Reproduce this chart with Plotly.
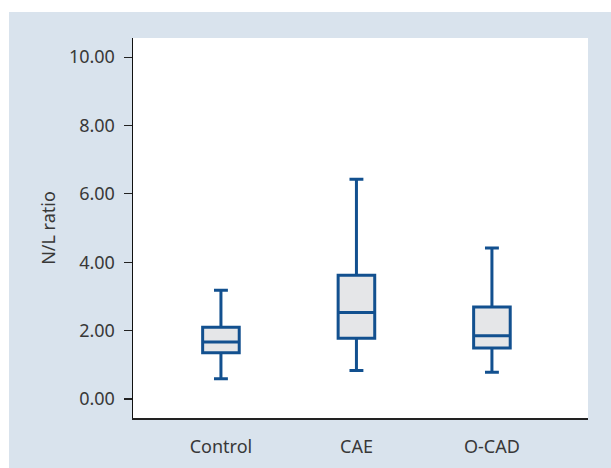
import plotly.graph_objects as go

categories = ["Control", "CAE", "O-CAD"]
lower_whisker = [0.59, 0.83, 0.78]
q1_values = [1.35, 1.78, 1.49]
median_values = [1.67, 2.53, 1.85]
q3_values = [2.10, 3.62, 2.69]
upper_whisker = [3.18, 6.43, 4.42]
y_tick_values = [0, 2, 4, 6, 8, 10]

BOX_LINE = "#12508f"
BOX_FILL = "#e5e6e8"
PANEL_BG = "#d9e3ed"
FONT = "Noto Sans, Open Sans, sans-serif"
FS = 18
TXT = "#383838"

fig = go.Figure()
fig.add_trace(go.Box(
    x=categories,
    q1=q1_values,
    median=median_values,
    q3=q3_values,
    lowerfence=lower_whisker,
    upperfence=upper_whisker,
    width=0.27,
    whiskerwidth=0.38,
    line=dict(color=BOX_LINE, width=3),
    fillcolor=BOX_FILL,
    boxpoints=False,
    hoverinfo="skip",
    showlegend=False,
))

W, H = 611, 468
ml, mr, mt, mb = 133, 23, 38, 50
pw, ph = W - ml - mr, H - mt - mb

def px_x(q):
    return (q - ml) / pw

def px_y(p):
    return (H - mb - p) / ph

fig.update_layout(
    width=W, height=H,
    margin=dict(l=ml, r=mr, t=mt, b=mb, pad=0, autoexpand=False),
    paper_bgcolor=PANEL_BG,
    plot_bgcolor="white",
    font=dict(family=FONT, size=FS, color=TXT),
    shapes=[
        dict(type="rect", xref="paper", yref="paper", layer="below",
             x0=px_x(-20), x1=px_x(W + 20), y0=px_y(12), y1=px_y(-20),
             fillcolor="white", line=dict(width=0)),
        dict(type="rect", xref="paper", yref="paper", layer="below",
             x0=px_x(-20), x1=px_x(9), y0=px_y(H + 20), y1=px_y(-20),
             fillcolor="white", line=dict(width=0)),
    ],
)

fig.update_xaxes(
    type="category",
    range=[-0.649, 2.709],
    automargin=False,
    showline=True, linecolor="#222222", linewidth=1.5,
    showgrid=False, zeroline=False,
    ticks="outside", ticklen=12, tickcolor="rgba(0,0,0,0)",
    tickfont=dict(family=FONT, size=FS, color=TXT),
)
fig.update_yaxes(
    range=[-0.556, 10.56],
    automargin=False,
    tickvals=y_tick_values,
    tickformat=".2f",
    showline=True, linecolor="#111111", linewidth=1.5,
    showgrid=False, zeroline=False,
    ticks="outside", ticklen=8, tickwidth=1.2, tickcolor="#222222",
    ticklabelstandoff=5,
    tickfont=dict(family=FONT, size=FS, color=TXT),
    title=dict(text="N/L ratio", standoff=8,
               font=dict(family=FONT, size=FS, color=TXT)),
)

fig.write_html(
    "out.html",
    config={"displayModeBar": False, "staticPlot": True},
    post_script="document.body.style.margin='0';document.body.style.overflow='hidden';",
)
